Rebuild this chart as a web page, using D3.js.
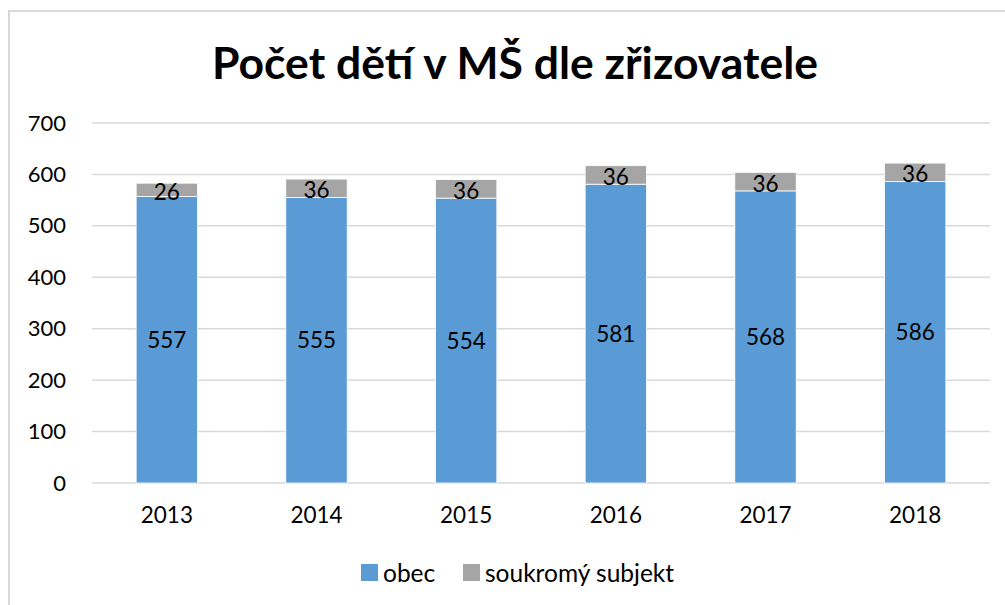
<!DOCTYPE html>
<html>
<head>
<meta charset="utf-8">
<script src="https://cdn.jsdelivr.net/npm/d3@7"></script>
<style>
  body { margin: 0; background: #fff; }
  text { font-family: Lato, "Open Sans", sans-serif; }
</style>
</head>
<body>
<svg width="1005" height="605"></svg>
<script>
const years = ["2013", "2014", "2015", "2016", "2017", "2018"]
const obec = [557, 555, 554, 581, 568, 586]
const soukromy = [26, 36, 36, 36, 36, 36]
const seriesNames = ["obec", "soukromý subjekt"]
const yTicks = [0, 100, 200, 300, 400, 500, 600, 700]

let svg = d3.select("svg"),
    margin = {top: 123, right: 15, bottom: 122, left: 92},
    width = 1005 - margin.left - margin.right,
    height = 605 - margin.top - margin.bottom

const colors = ["#5b9bd5", "#a5a5a5"]

// chart frame
svg.append("rect")
    .attr("x", 9).attr("y", 11)
    .attr("width", 1010).attr("height", 610)
    .attr("fill", "none")
    .attr("stroke", "#d9d9d9")
    .attr("stroke-width", 2)

svg.append("text")
    .attr("x", 515).attr("y", 79)
    .attr("text-anchor", "middle")
    .style("font-size", "44.5px")
    .style("font-weight", "bold")
    .attr("fill", "#000")
    .text("Počet dětí v MŠ dle zřizovatele")

let g = svg.append("g").attr("transform", "translate(" + margin.left + "," + margin.top + ")")

let x = d3.scaleBand().domain(years).range([0, width]).paddingInner(0.59).paddingOuter(0.295)
let y = d3.scaleLinear().domain([0, 700]).range([height, 0])

// gridlines
g.selectAll(".grid").data(yTicks).enter().append("line")
    .attr("x1", 0).attr("x2", width)
    .attr("y1", d => y(d)).attr("y2", d => y(d))
    .attr("stroke", "#d9d9d9").attr("stroke-width", 1.5)

let yAxis = g.append("g").call(d3.axisLeft(y).tickValues(yTicks).tickSize(0).tickPadding(26))
yAxis.select(".domain").remove()
yAxis.selectAll("text").style("font-size", "22px").attr("fill", "#000").style("font-family", "Lato, sans-serif")

let xAxis = g.append("g").attr("transform", "translate(0," + height + ")")
    .call(d3.axisBottom(x).tickSize(0).tickPadding(24))
xAxis.select(".domain").remove()
xAxis.selectAll("text").style("font-size", "22.5px").attr("fill", "#000").style("font-family", "Lato, sans-serif")

const rows = years.map((yr, i) => ({year: yr, obec: obec[i], soukromy: soukromy[i]}))
const stack = d3.stack().keys(["obec", "soukromy"])(rows)

stack.forEach(function (layer, k) {
    g.append("g").selectAll("rect").data(layer).enter().append("rect")
        .attr("x", d => x(d.data.year))
        .attr("y", d => y(d[1]))
        .attr("width", x.bandwidth())
        .attr("height", d => y(d[0]) - y(d[1]))
        .attr("fill", colors[k])
        .attr("stroke", "#fff").attr("stroke-width", 0.8)

    g.append("g").selectAll("text").data(layer).enter().append("text")
        .attr("x", d => x(d.data.year) + x.bandwidth() / 2)
        .attr("y", d => (y(d[0]) + y(d[1])) / 2 + (k === 1 ? 2 : 0))
        .attr("dy", "0.36em")
        .attr("text-anchor", "middle")
        .style("font-size", "22.5px")
        .attr("fill", "#000")
        .text(d => d[1] - d[0])
})

// legend
const legendX = [361, 463]
seriesNames.forEach(function (name, i) {
    svg.append("rect")
        .attr("x", legendX[i]).attr("y", 564)
        .attr("width", 17).attr("height", 17)
        .attr("fill", colors[i])
    svg.append("text")
        .attr("x", legendX[i] + 22).attr("y", 573)
        .attr("dy", "0.36em")
        .style("font-size", "24.5px")
        .attr("fill", "#000")
        .text(name)
})
</script>
</body>
</html>
